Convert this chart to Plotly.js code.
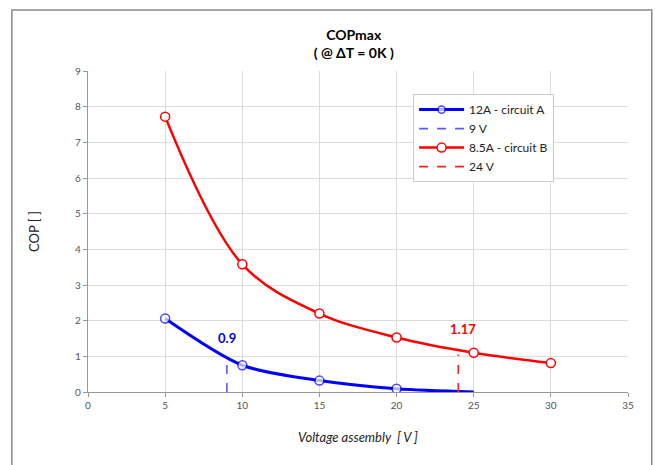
<!DOCTYPE html>
<html>
<head>
<meta charset="utf-8">
<script src="https://cdn.plot.ly/plotly-3.0.1.min.js"></script>
<style>html,body{margin:0;padding:0;background:#fff;}#chart{width:655px;height:465px;}</style>
</head>
<body>
<div id="chart"></div>
<script>
// Data
const voltageA = [5, 10, 15, 20, 25];
const copA = [2.06, 0.75, 0.32, 0.09, 0.0];
const voltageB = [5, 10, 15, 20, 25, 30];
const copB = [7.72, 3.58, 2.2, 1.53, 1.1, 0.81];
const dashA_x = [9, 9];
const dashA_y = [0, 0.92];
const dashB_x = [24, 24];
const dashB_y = [0, 1.05];
const labelA = {x: 8.98, y: 1.52, text: '0.9'};
const labelB = {x: 24.3, y: 1.78, text: '1.17'};

const FONT = 'Lato, "DejaVu Sans", sans-serif';

const traces = [
  {x: voltageA, y: copA, name: '12A - circuit A', mode: 'lines+markers',
   line: {color: '#0000ff', width: 3, shape: 'spline', smoothing: 0.8},
   marker: {symbol: 'circle', size: [9,9,9,9,0], color: '#ffffff', line: {color: '#0000ff', width: 1.5}}},
  {x: dashA_x, y: dashA_y, name: '9 V', mode: 'lines',
   line: {color: '#5a5aff', width: 1.6, dash: 'dash'}},
  {x: voltageB, y: copB, name: '8.5A - circuit B', mode: 'lines+markers',
   line: {color: '#ff0000', width: 2.5, shape: 'spline'},
   marker: {symbol: 'circle', size: 9, color: '#ffffff', line: {color: '#ff0000', width: 1.5}}},
  {x: dashB_x, y: dashB_y, name: '24 V', mode: 'lines',
   line: {color: '#ff2020', width: 1.6, dash: 'dash'}}
];

const layout = {
  width: 655, height: 465,
  margin: {l: 88, r: 27, t: 71, b: 73},
  paper_bgcolor: '#ffffff', plot_bgcolor: '#ffffff',
  font: {family: FONT, color: '#444'},
  showlegend: true,
  title: {text: '<b>COPmax<br>( @ ΔT = 0K )</b>', x: 0.54, xanchor: 'center', y: 0.915, yanchor: 'top',
          font: {size: 14, color: '#000', family: FONT}},
  xaxis: {range: [0, 35], dtick: 5, tick0: 0, showgrid: true, gridcolor: '#dcdcdc', gridwidth: 1,
          zeroline: false, showline: true, linecolor: '#999', linewidth: 1.2, mirror: false,
          ticks: 'outside', ticklen: 4, tickcolor: '#999',
          tickfont: {size: 10, color: '#555', family: FONT},
          title: {text: '<i>Voltage assembly  [ V ]</i>', standoff: 22, font: {size: 13, color: '#222', family: FONT}}},
  yaxis: {range: [0, 9], dtick: 1, tick0: 0, showgrid: true, gridcolor: '#dcdcdc', gridwidth: 1,
          zeroline: false, showline: true, linecolor: '#999', linewidth: 1.2,
          ticks: 'outside', ticklen: 4, tickcolor: '#999',
          tickfont: {size: 10, color: '#555', family: FONT},
          title: {text: 'COP [ ]', standoff: 32, font: {size: 13, color: '#222', family: FONT}}},
  legend: {x: 0.602, y: 0.928, xanchor: 'left', yanchor: 'top', bgcolor: '#ffffff',
           bordercolor: '#cccccc', borderwidth: 1, font: {size: 12, color: '#222', family: FONT},
           tracegroupgap: 0, itemwidth: 45},
  annotations: [
    {x: labelA.x, y: labelA.y, text: '<b>' + labelA.text + '</b>', showarrow: false,
     font: {size: 13, color: '#0000ff', family: FONT}},
    {x: labelB.x, y: labelB.y, text: '<b>' + labelB.text + '</b>', showarrow: false,
     font: {size: 13, color: '#ff0000', family: FONT}}
  ],
  shapes: [
    {type: 'rect', xref: 'paper', yref: 'paper', x0: -0.141, x1: 1.044, y0: -0.25, y1: 1.19,
     line: {color: '#8a8a8a', width: 1.5}, fillcolor: 'rgba(0,0,0,0)', layer: 'below'}
  ]
};

Plotly.newPlot('chart', traces, layout, {displayModeBar: false, staticPlot: true});
</script>
</body>
</html>
